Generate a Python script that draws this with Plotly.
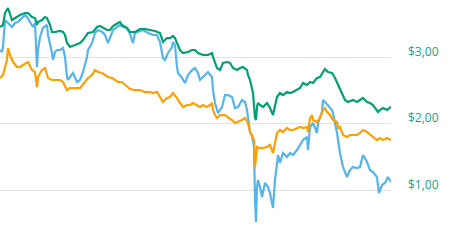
import plotly.graph_objects as go

# day index (relative), series values in dollars
green_day = [0,3,5,8,12,15,20,25,28,32,35,37,38,42,45,47,50,52,55,60,63,65,67,70,75,80,83,85,88,93,97,100,103,107,110,113,118,120,122,127,130,135,140,145,150,155,160,162,163,167,170,173,175,177,180,183,188,192,195,198,203,208,212,213,217,220,223,227,230,233,237,240,243,247,248,250,252,253,255,256,257,258,260,263,267,270,273,275,277,280,283,287,290,293,297,300,303,307,310,313,317,320,323,325,328,332,335,338,342,345,348,353,357,360,363,367,370,373,378,380,383,387,391]
green_val = [3.456,3.486,3.666,3.742,3.561,3.591,3.636,3.666,3.666,3.606,3.591,3.486,3.531,3.561,3.606,3.591,3.486,3.381,3.381,3.396,3.381,3.336,3.215,3.155,3.185,3.215,3.260,3.306,3.366,3.381,3.456,3.471,3.441,3.411,3.411,3.471,3.516,3.531,3.486,3.441,3.381,3.381,3.426,3.426,3.411,3.396,3.366,3.260,3.230,3.290,3.290,3.321,3.290,3.215,3.110,3.065,3.080,3.110,3.110,3.065,3.035,3.035,3.065,3.005,2.839,2.809,2.914,2.929,2.914,2.839,2.809,2.839,2.854,2.809,2.734,2.659,2.553,2.463,2.087,2.057,2.253,2.313,2.283,2.253,2.313,2.238,2.132,2.253,2.403,2.463,2.433,2.478,2.463,2.478,2.508,2.538,2.614,2.584,2.629,2.614,2.689,2.704,2.779,2.824,2.779,2.764,2.689,2.584,2.463,2.358,2.328,2.358,2.328,2.358,2.388,2.328,2.313,2.283,2.178,2.208,2.238,2.208,2.253]

blue_day = [0,2,3,5,8,12,15,18,22,25,27,30,33,35,37,38,40,43,47,48,50,52,53,55,57,60,63,65,67,68,70,73,77,80,83,87,88,92,95,98,102,105,108,110,113,117,120,123,127,130,133,135,138,143,148,153,157,160,163,165,168,172,173,175,177,178,182,185,188,192,195,198,200,203,208,212,213,215,218,222,225,228,232,235,238,242,245,247,250,252,254,255,256,257,258,260,262,265,268,270,272,273,275,277,278,280,283,287,290,293,297,300,303,307,308,310,313,317,318,322,323,325,328,332,333,337,340,343,347,350,353,357,360,362,363,367,370,373,377,379,382,385,388,391]
blue_val = [3.110,3.080,3.155,3.561,3.516,3.456,3.516,3.531,3.591,3.636,3.606,3.531,3.456,3.516,2.854,3.110,3.306,3.441,3.486,3.336,3.215,3.065,2.960,3.080,3.110,3.110,3.140,3.005,2.704,2.659,2.704,2.764,2.629,2.659,2.779,3.005,3.110,3.215,3.366,3.411,3.381,3.336,3.215,3.306,3.411,3.456,3.486,3.456,3.441,3.351,3.215,3.366,3.381,3.411,3.366,3.336,3.336,3.230,2.990,2.960,3.065,3.155,3.230,3.185,2.854,2.764,2.689,2.614,2.734,2.809,2.839,2.764,2.659,2.704,2.779,2.704,2.508,2.313,2.162,2.253,2.433,2.433,2.403,2.238,2.253,2.358,2.328,2.208,1.877,1.832,1.651,0.854,0.523,1.050,1.155,1.050,0.899,1.110,1.050,0.959,0.809,0.734,1.155,1.456,1.531,1.411,1.561,1.501,1.561,1.531,1.606,1.681,1.756,1.802,1.606,1.952,2.012,1.862,2.012,2.178,2.358,2.328,2.283,2.208,2.162,1.862,1.561,1.350,1.200,1.305,1.350,1.335,1.350,1.501,1.531,1.426,1.305,1.275,1.200,0.959,1.080,1.110,1.200,1.125]

orange_day = [0,3,7,8,10,13,17,20,23,27,28,32,35,37,38,42,45,48,52,55,60,63,67,70,75,80,85,88,92,95,98,102,105,108,112,115,118,122,125,128,130,135,140,145,150,153,157,160,163,167,170,173,177,180,183,187,190,193,197,200,203,207,210,212,213,215,217,220,225,228,232,235,238,242,245,248,250,252,254,255,256,257,260,263,267,270,273,275,277,280,283,287,290,293,297,300,303,307,308,310,312,313,317,320,323,325,327,330,333,337,338,340,343,347,350,353,357,360,363,367,370,373,377,380,383,387,391]
orange_val = [2.689,2.734,2.960,3.140,3.035,2.929,2.854,2.854,2.884,2.914,2.929,2.809,2.779,2.553,2.704,2.809,2.839,2.689,2.659,2.659,2.659,2.629,2.508,2.538,2.538,2.538,2.629,2.689,2.734,2.809,2.779,2.764,2.734,2.704,2.689,2.659,2.629,2.629,2.584,2.538,2.523,2.508,2.508,2.478,2.478,2.463,2.478,2.403,2.328,2.388,2.403,2.463,2.388,2.313,2.253,2.283,2.283,2.313,2.283,2.253,2.283,2.253,2.283,2.313,2.208,2.132,2.087,2.132,2.132,2.102,2.057,2.012,2.027,2.057,2.087,2.012,1.877,1.802,1.756,1.350,1.561,1.651,1.636,1.636,1.651,1.681,1.561,1.711,1.862,1.907,1.877,1.937,1.907,1.907,1.937,1.952,1.937,1.952,1.877,2.087,2.132,2.057,2.027,2.087,2.208,2.238,2.178,2.132,2.057,2.027,1.937,1.952,1.832,1.802,1.832,1.832,1.832,1.862,1.907,1.877,1.832,1.802,1.756,1.786,1.756,1.786,1.756]

tick_vals = [1, 2, 3]
tick_text = ["$1,00", "$2,00", "$3,00"]

BLUE = "#56B4E9"
ORANGE = "#FFA000"
GREEN = "#009E73"

fig = go.Figure()
fig.add_trace(go.Scatter(x=blue_day, y=blue_val, mode="lines",
                         line=dict(color=BLUE, width=2.2), showlegend=False))
fig.add_trace(go.Scatter(x=orange_day, y=orange_val, mode="lines",
                         line=dict(color=ORANGE, width=2.2), showlegend=False))
fig.add_trace(go.Scatter(x=green_day, y=green_val, mode="lines",
                         line=dict(color=GREEN, width=2.2), showlegend=False))

fig.update_layout(
    width=452, height=240,
    margin=dict(l=0, r=61, t=0, b=0),
    paper_bgcolor="white", plot_bgcolor="white",
    xaxis=dict(range=[0, 391], visible=False),
    yaxis=dict(range=[0.253, 3.862], side="right", tickvals=tick_vals, ticktext=tick_text,
               showgrid=True, gridcolor="#e3e3e3", gridwidth=1, zeroline=False,
               showline=False, ticks="",
               ticklabelshift=-6, ticklabelstandoff=16,
               tickfont=dict(family="Open Sans", size=12, color="#1AA08F")),
)

fig.write_html("out.html")
